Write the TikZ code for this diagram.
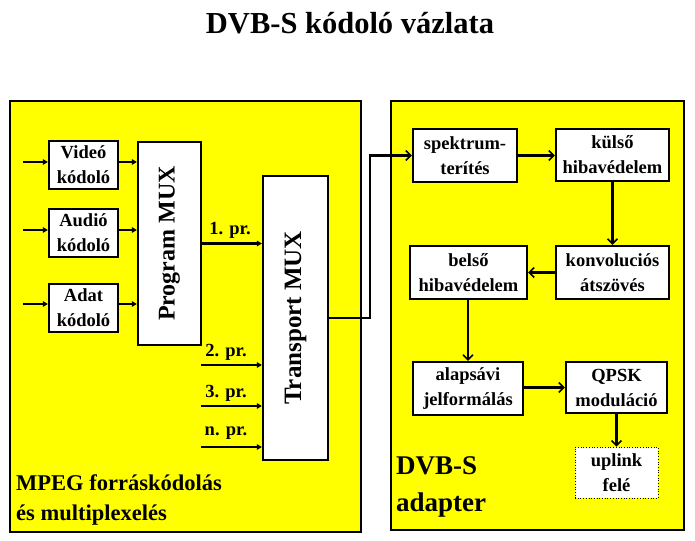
\documentclass[tikz,border=0pt]{standalone}
\usepackage{fontspec}
\setmainfont{Liberation Serif}
\usetikzlibrary{arrows.meta}
\definecolor{panelyellow}{RGB}{255,255,0}
\begin{document}
\begin{tikzpicture}[x=1pt,y=-1pt,
  every node/.style={font=\bfseries},
  panel/.style={draw=black,fill=panelyellow,line width=2pt},
  blk/.style={draw=black,fill=white,line width=2.2pt,inner sep=0pt,align=center,
    font=\bfseries\fontsize{18.5}{25}\selectfont},
  lab/.style={font=\bfseries\fontsize{18.5}{22}\selectfont,inner sep=0pt},
  larr/.style={line width=2.2pt,-{Triangle[length=5pt,width=5.5pt]}},
  rarr/.style={line width=2.2pt,-{Straight Barb[length=5pt,width=10pt,line width=1.6pt]}}
]
\useasboundingbox (0,0) rectangle (695,540);
\fill[white] (0,0) rectangle (695,540);

% title
\node[font=\bfseries\fontsize{30.5}{34}\selectfont] (title) at (350,23) {DVB-S kódoló vázlata};

% panels
\draw[panel] (10,101) rectangle (361,532);
\draw[panel] (391,101) rectangle (684,530);

% left blocks
\node[blk,minimum width=69,minimum height=48] (video) at (83.5,165) {Videó\\kódoló};
\node[blk,minimum width=69,minimum height=48] (audio) at (83.5,233) {Audió\\kódoló};
\node[blk,minimum width=69,minimum height=48] (adat) at (83.5,308) {Adat\\kódoló};
\node[blk,minimum width=63,minimum height=203] (pmux) at (169.5,243.5) {};
\node[rotate=90,font=\bfseries\fontsize{24}{28}\selectfont] (pmuxt) at (pmux.center) {Program MUX};
\node[blk,minimum width=65,minimum height=284] (tmux) at (295.5,318) {};
\node[rotate=90,font=\bfseries\fontsize{25}{28}\selectfont] (tmuxt) at (tmux.center) {Transport MUX};

% inputs
\coordinate (inv) at (23,162);
\coordinate (ina) at (23,230);
\coordinate (ind) at (23,304);
\draw[larr] (inv) -- (video.west |- inv);
\draw[larr] (ina) -- (audio.west |- ina);
\draw[larr] (ind) -- (adat.west |- ind);
\draw[larr] (video.east |- inv) -- (pmux.west |- inv);
\draw[larr] (audio.east |- ina) -- (pmux.west |- ina);
\draw[larr] (adat.east |- ind) -- (pmux.west |- ind);

% programs
\draw[larr] (pmux.east) -- (tmux.west |- pmux.east);
\coordinate (p2) at (201,365);
\coordinate (p3) at (201,406);
\coordinate (pn) at (201,447);
\draw[larr] (p2) -- (tmux.west |- p2);
\draw[larr] (p3) -- (tmux.west |- p3);
\draw[larr] (pn) -- (tmux.west |- pn);
\node[lab] (l1) at (230,230) {1. pr.};
\node[lab] (l2) at (226,352) {2. pr.};
\node[lab] (l3) at (226,393) {3. pr.};
\node[lab] (ln) at (226,433) {n. pr.};

% left panel label
\node[anchor=west,align=left,inner sep=0pt,font=\bfseries\fontsize{22.5}{30}\selectfont] (mpeg) at (16,500) {MPEG forráskódolás\\és multiplexelés};

% right blocks
\node[blk,minimum width=104,minimum height=53] (spek) at (465,155.5) {spektrum-\\terítés};
\node[blk,minimum width=113,minimum height=52] (kulso) at (612.5,155) {külső\\hibavédelem};
\node[blk,minimum width=113,minimum height=53] (konv) at (612.5,272.5) {konvoluciós\\átszövés};
\node[blk,minimum width=117,minimum height=53] (belso) at (468.5,272.5) {belső\\hibavédelem};
\node[blk,minimum width=110,minimum height=53] (alap) at (468,388.5) {alapsávi\\jelformálás};
\node[blk,minimum width=101,minimum height=51] (qpsk) at (616.5,387.5) {QPSK\\moduláció};
\node[blk,line width=0.7pt,dotted,minimum width=83,minimum height=51] (upl) at (616.5,472.5) {uplink\\felé};

% transport output to adapter
\coordinate (bend) at (370,155.5);
\draw[rarr] (tmux.east) -| (bend) -- (spek.west);

% right arrows
\draw[rarr] (spek.east) -- (kulso.west |- spek.east);
\draw[rarr] (kulso.south) -- (konv.north);
\draw[rarr] (konv.west) -- (belso.east);
\draw[rarr] (belso.south -| alap.north) -- (alap.north);
\draw[rarr] (alap.east |- qpsk.west) -- (qpsk.west);
\draw[rarr] (qpsk.south) -- (upl.north);

% right panel label
\node[anchor=west,align=left,inner sep=0pt,font=\bfseries\fontsize{27}{37}\selectfont] (dvbs) at (396,487) {DVB-S\\adapter};
\end{tikzpicture}
\end{document}
